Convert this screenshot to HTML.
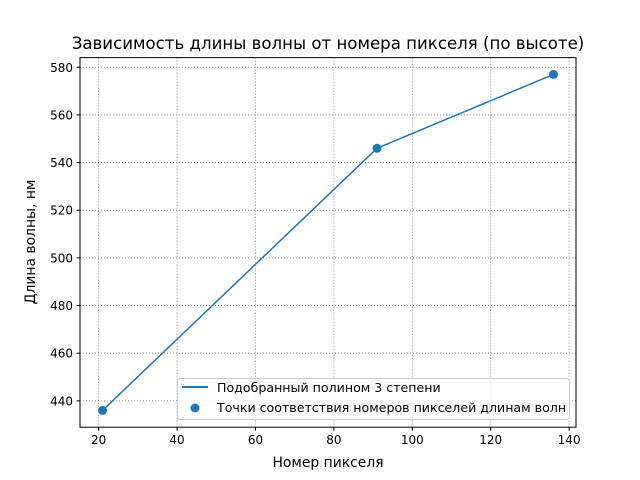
<!DOCTYPE html>
<html><head><meta charset="utf-8"><style>
body{margin:0;background:#fff}
svg{display:block;font-family:"DejaVu Sans","Liberation Sans",sans-serif}
</style></head><body>
<svg id="chart" width="640" height="480">
<rect width="640" height="480" fill="#fff"/>
<g id="grid"></g>
<g id="ticks"></g>
<g id="series"></g>
<rect x="80" y="57.6" width="496" height="369.6" fill="none" stroke="#000" stroke-width="1"/>
<text x="328" y="49" font-size="16.6" text-anchor="middle">Зависимость длины волны от номера пикселя (по высоте)</text>
<text x="328" y="467" font-size="13.9" text-anchor="middle">Номер пикселя</text>
<text transform="translate(35,242) rotate(-90)" font-size="13.9" text-anchor="middle">Длина волны, нм</text>
<g>
<rect x="177.5" y="378.5" width="392" height="41" rx="3" fill="#fff" fill-opacity="0.8" stroke="#ccc"/>
<line x1="182" y1="387" x2="208" y2="387" stroke="#1f77b4" stroke-width="2"/>
<text x="217" y="392" font-size="12.6">Подобранный полином 3 степени</text>
<circle cx="195" cy="408" r="4.5" fill="#1f77b4"/>
<text x="217" y="412" font-size="12.6">Точки соответствия номеров пикселей длинам волн</text>
</g>
</svg>
<script>
const pixels=[21,91,136];
const waves=[436,546,577];
const xTicks=[20,40,60,80,100,120,140];
const yTicks=[440,460,480,500,520,540,560,580];
const NS="http://www.w3.org/2000/svg";
const X0=80,X1=576,Y0=427.2,Y1=57.6;
const xmin=Math.min(...pixels),xmax=Math.max(...pixels),xr=xmax-xmin;
const ymin=Math.min(...waves),ymax=Math.max(...waves),yr=ymax-ymin;
const xa=xmin-0.05*xr,xb=xmax+0.05*xr,ya=ymin-0.05*yr,yb=ymax+0.05*yr;
const sx=v=>X0+(v-xa)/(xb-xa)*(X1-X0);
const sy=v=>Y0-(v-ya)/(yb-ya)*(Y0-Y1);
function mk(tag,attrs,parent){const e=document.createElementNS(NS,tag);for(const k in attrs)e.setAttribute(k,attrs[k]);document.getElementById(parent).appendChild(e);return e;}
xTicks.forEach(t=>{const x=sx(t);
const g=mk('line',{x1:x,x2:x,y1:Y1,y2:Y0,stroke:'#777','stroke-width':0.8,'stroke-dasharray':'1,2'},'grid');


const tk=mk('line',{x1:x,x2:x,y1:Y0,y2:Y0+3.5,stroke:'#000'},'ticks');


const tl=mk('text',{x:x,y:Y0+17,'font-size':12,'text-anchor':'middle'},'ticks');tl.textContent=t;

});
yTicks.forEach(t=>{const y=sy(t);
const g=mk('line',{x1:X0,x2:X1,y1:y,y2:y,stroke:'#777','stroke-width':0.8,'stroke-dasharray':'1,2'},'grid');


const tk=mk('line',{x1:X0-3.5,x2:X0,y1:y,y2:y,stroke:'#000'},'ticks');


const tl=mk('text',{x:X0-7,y:y+4.5,'font-size':12,'text-anchor':'end'},'ticks');tl.textContent=t;

});
const pl=mk('polyline',{points:pixels.map((p,i)=>sx(p)+','+sy(waves[i])).join(' '),fill:'none',stroke:'#1f77b4','stroke-width':1.5},'series');


pixels.forEach((p,i)=>{const c=mk('circle',{cx:sx(p),cy:sy(waves[i]),r:4.5,fill:'#1f77b4'},'series');

});
</script>
</body></html>
